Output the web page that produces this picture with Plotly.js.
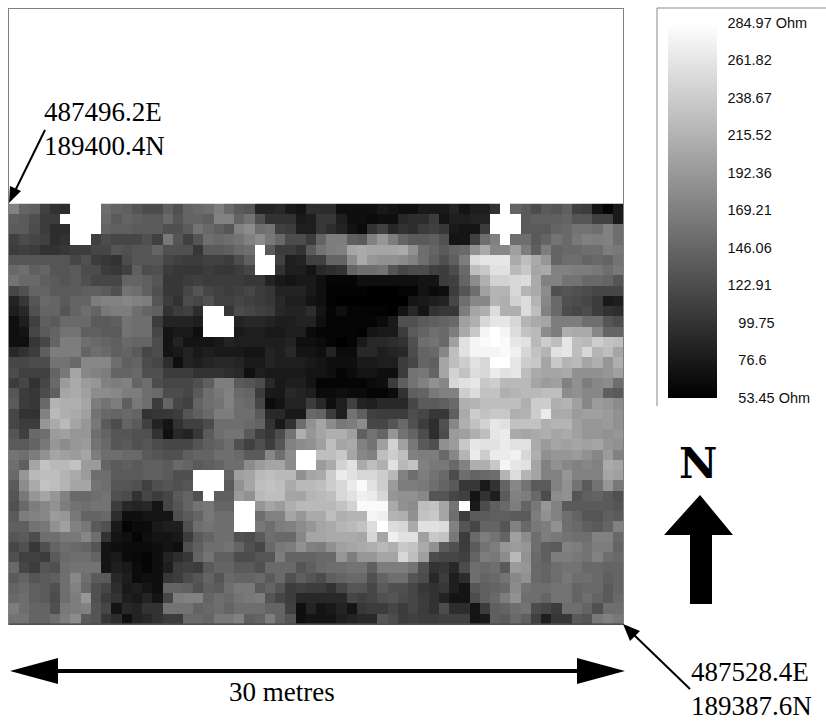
<!DOCTYPE html>
<html>
<head>
<meta charset="utf-8">
<script src="https://cdn.plot.ly/plotly-3.0.1.min.js"></script>
<style>html,body{margin:0;padding:0;background:#fff}#chart{width:826px;height:724px}</style>
</head>
<body>
<div id="chart"></div>
<script>
const _ = null;
const row00=[171,144,140,112,99,94,_,_,_,153,144,140,131,122,122,140,126,144,149,153,167,149,135,131,85,85,90,76,72,94,94,94,67,67,67,67,76,72,67,67,76,76,76,85,72,81,81,99,_,144,135,122,135,131,140,112,108,72,58,76];
const row01=[140,135,126,108,108,_,_,_,_,149,135,144,140,135,135,149,131,144,144,140,171,171,144,158,126,99,99,99,76,81,103,103,81,67,67,63,67,67,90,94,94,108,72,81,81,85,85,_,_,_,135,140,140,140,144,131,131,112,112,76];
const row02=[135,135,122,108,94,94,_,_,_,144,140,140,135,135,135,126,126,135,158,149,140,131,171,181,153,158,112,108,81,81,103,94,85,72,63,99,112,90,99,94,108,112,103,76,72,72,108,_,_,_,135,135,135,144,149,158,158,153,171,153];
const row03=[112,122,117,112,94,99,_,_,112,122,117,117,117,126,112,162,131,112,131,153,149,153,158,171,181,162,149,122,122,108,144,167,167,140,135,171,190,167,144,135,135,140,126,72,72,112,153,171,_,153,153,135,144,158,149,162,171,167,171,153];
const row04=[108,112,108,99,99,103,108,108,117,117,131,126,131,131,144,126,126,126,103,135,135,140,149,153,_,135,108,108,99,135,158,167,171,203,208,203,203,203,208,185,153,144,135,144,149,185,208,176,176,199,167,140,167,144,149,149,153,153,167,162];
const row05=[131,131,131,131,131,131,117,126,108,103,99,122,131,131,131,117,112,108,108,112,112,108,122,140,_,_,112,81,85,112,112,144,144,181,208,190,185,185,181,171,153,140,126,140,167,253,262,262,262,208,226,208,190,144,153,153,144,149,144,158];
const row06=[149,153,140,144,131,131,135,122,122,108,103,112,140,122,126,108,103,103,103,108,103,103,108,117,_,_,99,81,81,72,90,94,99,144,153,153,158,131,117,122,122,112,108,122,149,226,235,258,258,221,235,203,208,171,171,167,167,162,153,162];
const row07=[158,149,149,140,135,131,135,126,117,117,117,144,144,140,131,103,103,108,112,108,108,108,108,103,103,85,76,72,76,76,67,58,58,58,67,67,67,67,67,67,72,72,108,112,144,181,212,244,244,249,253,208,171,171,158,158,149,149,144,131];
const row08=[117,126,144,144,135,135,135,140,140,135,126,158,153,140,126,103,103,117,131,117,112,108,112,117,108,103,85,85,85,76,67,56,56,56,56,53,53,53,58,58,72,63,67,108,131,153,199,217,217,249,217,208,181,126,131,126,122,117,117,117];
const row09=[85,103,131,149,144,135,144,144,167,171,171,176,171,167,131,108,99,122,117,126,112,112,117,112,108,103,90,81,81,72,67,56,53,53,53,53,53,53,53,72,76,81,85,117,153,176,176,217,212,244,253,217,176,149,126,122,117,108,76,81];
const row10=[81,90,126,144,144,131,144,153,144,162,167,167,153,144,140,99,108,112,94,_,_,103,122,117,112,108,90,85,85,94,72,58,67,58,58,56,56,53,72,90,72,99,103,103,167,203,212,253,212,212,253,226,171,149,122,117,122,108,99,94];
const row11=[67,81,112,140,135,149,149,149,135,135,140,158,153,153,108,85,85,85,81,_,_,_,85,90,90,85,81,81,85,85,67,58,58,58,58,58,63,76,126,126,135,140,144,149,199,212,249,262,262,249,217,208,203,167,167,167,153,153,131,122];
const row12=[67,72,117,135,144,158,158,140,140,135,135,158,153,153,117,72,76,76,67,_,_,_,76,81,81,76,76,81,81,63,58,58,58,58,56,72,76,76,108,135,144,153,149,167,208,235,276,285,276,253,230,221,181,167,212,208,208,176,144,144];
const row13=[67,67,103,117,144,167,167,153,149,144,140,149,144,144,122,72,85,72,72,72,76,85,81,81,81,81,81,85,67,67,63,58,53,58,76,90,90,94,99,126,153,158,149,199,258,276,280,285,280,262,258,221,240,226,262,226,221,240,230,226];
const row14=[90,99,108,140,167,167,167,144,153,149,140,144,135,117,122,72,76,85,76,81,76,76,76,72,72,85,81,90,72,72,67,85,63,63,90,90,81,85,90,122,144,149,176,226,258,276,276,276,280,271,249,230,217,258,262,226,249,217,226,203];
const row15=[117,117,122,122,158,158,149,176,176,176,153,140,144,122,117,94,67,85,81,85,90,90,85,76,76,85,81,81,81,76,72,67,67,67,76,76,81,81,108,117,144,140,203,226,240,258,249,285,285,262,240,235,203,235,217,221,203,212,190,212];
const row16=[122,112,112,112,144,162,203,176,171,167,144,144,149,126,126,108,108,108,99,99,99,94,90,67,81,76,76,76,76,72,72,67,58,63,72,72,67,67,108,158,162,144,203,244,230,253,249,267,258,262,226,208,203,203,208,185,185,185,190,199];
const row17=[108,117,99,117,149,194,208,194,190,171,167,171,144,153,122,117,117,117,126,140,167,167,135,131,122,90,76,81,81,72,58,58,58,58,58,63,67,108,140,158,171,185,176,249,258,262,235,240,221,221,221,203,194,199,171,185,167,176,181,153];
const row18=[131,108,103,122,140,203,208,199,181,181,176,167,167,153,149,122,122,117,135,153,162,171,149,144,108,76,76,90,85,81,63,63,67,63,63,58,58,63,99,140,144,162,171,171,240,253,230,230,212,217,221,221,226,226,181,185,176,176,140,135];
const row19=[135,108,103,149,217,212,212,203,167,158,167,140,162,153,108,144,117,112,144,153,158,171,153,149,117,63,72,85,85,108,90,67,81,112,85,81,90,90,90,117,135,135,140,149,212,217,226,226,226,226,212,240,240,212,217,199,176,194,190,181];
const row20=[117,99,99,171,221,212,208,199,158,149,144,149,144,99,103,103,108,131,140,149,167,167,153,153,135,90,90,76,76,149,144,108,81,158,140,112,108,108,108,122,117,103,103,140,208,240,230,235,235,212,217,240,267,208,208,194,199,199,194,185];
const row21=[117,108,108,190,208,221,203,190,162,135,122,144,135,112,85,72,99,112,112,122,153,153,153,149,144,99,76,99,153,185,203,181,162,167,181,117,117,131,149,126,108,94,126,176,212,230,244,262,258,230,230,230,212,217,217,199,190,190,194,185];
const row22=[131,112,149,153,194,199,190,190,153,144,131,131,126,126,99,67,90,85,103,135,153,158,158,135,112,103,122,158,212,190,203,212,212,199,140,158,144,190,158,144,122,94,122,194,199,212,226,262,267,208,203,208,212,203,208,199,190,190,185,190];
const row23=[135,135,144,162,190,181,190,194,158,149,131,135,126,131,122,117,117,117,131,140,144,153,126,112,126,108,131,171,181,185,199,226,203,208,171,158,199,244,199,162,135,126,185,194,235,262,258,258,267,258,258,208,194,203,199,203,199,203,190,185];
const row24=[158,153,167,185,203,199,194,203,167,153,153,149,149,135,131,126,126,140,144,144,153,153,149,135,135,176,153,181,_,_,226,226,235,203,176,171,226,240,226,171,167,167,149,176,217,267,240,267,267,271,249,212,185,190,190,194,185,176,194,171];
const row25=[153,140,203,230,221,221,230,194,194,144,135,140,135,140,140,135,149,144,135,140,144,153,153,181,194,203,203,181,_,_,194,208,244,258,208,226,212,258,221,230,171,162,162,149,171,212,212,235,276,262,258,203,171,185,176,171,176,171,208,203];
const row26=[149,190,221,226,226,217,208,194,153,153,135,135,135,140,140,135,126,126,_,_,_,144,199,203,221,226,221,221,185,203,208,240,267,258,249,249,240,221,171,153,167,158,149,122,153,144,149,153,217,253,217,203,171,171,190,171,171,171,203,199];
const row27=[135,181,208,230,226,217,203,203,158,153,131,131,126,112,126,131,126,131,_,_,_,135,185,203,226,230,226,208,221,221,226,240,249,267,280,258,240,194,167,167,162,153,144,135,103,103,76,99,144,176,158,135,135,171,185,158,135,158,190,162];
const row28=[131,162,190,203,190,171,149,149,153,158,126,122,99,117,108,117,135,144,126,_,140,140,194,185,221,226,226,203,203,217,221,226,249,258,271,267,249,190,185,185,176,131,131,117,112,72,99,81,135,171,167,149,122,181,185,131,140,144,135,126];
const row29=[126,149,167,176,185,167,158,153,158,158,108,90,85,90,72,117,131,144,158,162,144,144,_,_,190,203,194,212,221,221,221,221,230,244,280,280,280,208,185,181,226,230,203,158,_,76,122,140,149,167,144,162,190,171,135,135,135,135,135,131];
const row30=[135,167,171,176,194,190,162,144,144,149,94,67,67,72,72,72,126,135,144,162,153,153,_,_,153,171,171,203,190,208,208,226,212,217,217,276,271,217,212,185,230,235,203,153,108,135,135,140,140,135,135,167,185,171,153,144,131,131,140,135];
const row31=[140,140,158,162,185,199,171,162,135,126,76,58,63,63,76,81,81,126,153,158,153,153,_,_,162,153,167,171,181,190,203,208,217,221,230,253,285,253,249,208,258,258,253,171,131,117,144,144,131,171,149,162,167,185,153,149,140,135,144,171];
const row32=[131,135,122,153,153,162,162,176,153,99,72,67,58,67,72,72,76,108,135,144,153,153,126,122,135,153,149,149,176,203,203,208,208,208,203,249,203,271,258,258,199,235,230,162,108,149,167,158,144,199,181,153,167,162,158,153,153,171,171,149];
const row33=[117,126,103,126,144,153,149,144,131,72,67,63,63,63,67,72,67,126,140,153,153,158,144,126,117,149,162,167,185,171,167,185,199,203,208,212,221,212,235,230,208,185,135,126,108,135,158,167,190,194,190,153,140,135,171,167,158,167,167,144];
const row34=[126,112,112,108,135,149,153,153,144,72,76,63,61,58,67,85,94,103,144,158,140,140,122,122,131,131,167,144,144,144,149,149,190,167,190,190,203,203,249,226,199,122,117,117,112,144,167,162,181,221,185,149,140,167,167,162,158,171,153,149];
const row35=[149,117,108,131,126,153,158,158,158,72,81,76,63,58,67,81,108,112,108,135,144,144,135,135,126,149,149,149,131,140,149,153,153,158,158,140,167,167,167,158,126,99,103,90,122,153,149,153,135,194,190,149,144,153,158,158,149,149,144,144];
const row36=[135,144,131,135,140,153,176,153,135,135,90,81,63,67,67,103,108,122,131,144,131,149,144,144,149,135,149,126,140,131,122,140,144,149,149,126,144,153,153,131,122,90,108,81,94,153,144,149,158,176,185,149,144,153,162,153,153,149,140,144];
const row37=[144,149,140,135,126,153,171,149,126,117,94,76,81,72,67,144,144,140,126,140,135,153,162,162,135,144,131,108,112,108,108,99,117,131,131,117,135,126,126,117,103,99,103,81,72,131,140,144,149,181,158,153,153,158,158,144,149,149,135,144];
const row38=[149,153,140,135,122,153,167,190,126,108,99,81,76,85,72,117,167,171,171,144,153,149,158,162,167,131,117,108,90,90,90,90,90,117,112,117,126,131,122,117,108,99,85,72,72,122,140,149,167,185,153,153,144,158,158,144,153,144,135,149];
const row39=[167,153,144,144,126,162,167,171,131,117,72,90,85,99,99,158,158,158,144,149,153,144,153,153,153,144,144,112,67,85,72,76,85,72,103,108,108,117,108,117,108,99,122,94,94,72,108,140,144,153,158,122,117,108,153,153,144,126,153,153];
const row40=[158,158,144,144,153,167,181,135,131,103,94,67,85,90,99,108,108,149,149,144,162,162,171,140,144,167,144,131,67,72,72,72,81,85,90,90,131,122,108,112,108,108,112,112,112,72,76,140,135,149,140,112,81,103,103,135,131,162,171,162];

const resistivity = [row00,row01,row02,row03,row04,row05,row06,row07,row08,row09,row10,row11,row12,row13,row14,row15,row16,row17,row18,row19,row20,row21,row22,row23,row24,row25,row26,row27,row28,row29,row30,row31,row32,row33,row34,row35,row36,row37,row38,row39,row40];

const legendValues = [284.97,261.82,238.67,215.52,192.36,169.21,146.06,122.91,99.75,76.6,53.45];
const F = "\u2007\u2009";
const legendLabels = ["284.97 Ohm","261.82","238.67","215.52","192.36","169.21","146.06","122.91",F+"99.75",F+"76.6",F+"53.45 Ohm"];

const W=826,H=724,L=9,R=623,T=9,B=624;
const px = x => (x-L)/(R-L);
const py = y => (B-y)/(B-T);
const poly = pts => 'M'+pts.map(p=>px(p[0])+','+py(p[1])).join('L')+'Z';
const pshape = pts => ({type:'path',xref:'paper',yref:'paper',path:poly(pts),fillcolor:'#000',line:{width:0}});
const lshape = (x0,y0,x1,y1,w,c) => ({type:'line',xref:'paper',yref:'paper',x0:px(x0),y0:py(y0),x1:px(x1),y1:py(y1),line:{color:c,width:w}});
const txt = (s,x,y,size,fam) => ({text:s,xref:'paper',yref:'paper',x:px(x),y:py(y),xanchor:'left',yanchor:'middle',showarrow:false,font:{family:fam||'Liberation Serif, serif',size:size,color:'#000'}});

const trace = {
  type:'heatmap', z:resistivity, zmin:53.45, zmax:284.97, zsmooth:false, hoverongaps:false,
  colorscale:[[0,'#000000'],[1,'#ffffff']],
  colorbar:{xref:'container',yref:'container',x:668/W,y:0.3536,xanchor:'left',yanchor:'bottom',
    thickness:49,thicknessmode:'pixels',len:375,lenmode:'pixels',xpad:0,ypad:0,outlinewidth:0,borderwidth:0,
    tickmode:'array',tickvals:legendValues,ticktext:legendLabels,ticks:'outside',ticklen:8,tickcolor:'rgba(0,0,0,0)',
    tickfont:{family:'Liberation Sans, Arial, sans-serif',size:14.5,color:'#111'}}
};

const layout = {
  width:W,height:H,margin:{l:L,r:W-R,t:T,b:H-B,pad:0},paper_bgcolor:'#fff',plot_bgcolor:'#fff',
  xaxis:{range:[-0.5,59.5],showgrid:false,zeroline:false,showticklabels:false,ticks:'',showline:true,mirror:true,linecolor:'#808080',linewidth:1},
  yaxis:{range:[40.5,-19.5],showgrid:false,zeroline:false,showticklabels:false,ticks:'',showline:true,mirror:true,linecolor:'#808080',linewidth:1},
  shapes:[
    lshape(9,624,623,624,1,'#222'),
    lshape(657,8,826,8,1,'#888'),
    lshape(657,8,657,406,1,'#888'),
    lshape(45,130,14,193,2,'#000'),
    pshape([[9,203],[10,186],[21,191]]),
    lshape(690,689,632,633,2,'#000'),
    pshape([[623,624],[640,631],[630,641]]),
    lshape(50,671,585,671,4,'#000'),
    pshape([[10,671],[58,658],[58,684]]),
    pshape([[625,671],[577,658],[577,684]]),
    pshape([[700,495],[733,535],[712,535],[712,604],[690,604],[690,535],[664,535]])
  ],
  annotations:[
    txt('487496.2E',42,112,27), txt('189400.4N',42,146,27),
    txt('487528.4E',689,672,27), txt('189387.6N',689,706,27),
    txt('30 metres',227,692,27),
    txt('<b>N</b>',677,464,42,'DejaVu Serif, serif')
  ]
};
Plotly.newPlot('chart',[trace],layout,{displayModeBar:false,responsive:false});
</script>
</body>
</html>
